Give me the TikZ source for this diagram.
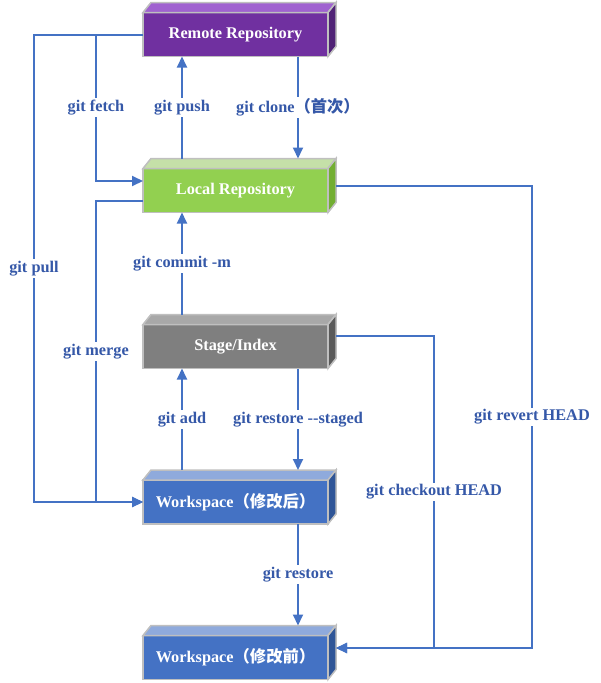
\documentclass[tikz,border=0pt]{standalone}
\usepackage{fontspec}
\setmainfont{Liberation Serif}
\newfontfamily\cjk{Noto Sans CJK SC}
\usetikzlibrary{arrows.meta}

\definecolor{lineblue}{HTML}{4472C4}
\definecolor{lblblue}{HTML}{3558A8}
\definecolor{boxgray}{HTML}{BFBFBF}
\definecolor{remoteFront}{HTML}{7030A0}
\definecolor{remoteTop}{HTML}{A062D0}
\definecolor{remoteSide}{HTML}{502276}
\definecolor{localFront}{HTML}{92D050}
\definecolor{localTop}{HTML}{C5E0A8}
\definecolor{localSide}{HTML}{72AE32}
\definecolor{stageFront}{HTML}{7F7F7F}
\definecolor{stageTop}{HTML}{A8A8A8}
\definecolor{stageSide}{HTML}{5A5A5A}
\definecolor{workFront}{HTML}{4472C4}
\definecolor{workTop}{HTML}{8FAADC}
\definecolor{workSide}{HTML}{2F5597}

\tikzset{
  cube/.style={draw=boxgray, line width=1.5pt, outer sep=0pt, inner sep=0pt,
    minimum width=185pt, minimum height=44pt, text=white},
  flow/.style={draw=lineblue, line width=2pt, -{Triangle[length=11pt,width=10pt]}},
  lbl/.style={fill=white, text=lblblue, inner sep=2pt}
}

\begin{document}
\begin{tikzpicture}[x=1pt, y=-1pt, font=\fontsize{16.3}{19}\selectfont\bfseries]
\useasboundingbox (0,0) rectangle (600,683);

% boxes
\node[cube, fill=remoteFront] (remote) at (235.5, 34.5) {Remote Repository};
\node[cube, fill=localFront] (local) at (235.5, 190.5) {Local Repository};
\node[cube, fill=stageFront] (stage) at (235.5, 346.5) {Stage/Index};
\node[cube, fill=workFront] (after) at (235.5, 502) {Workspace{\cjk（修改后）}};
\node[cube, fill=workFront] (before) at (235.5, 657.5) {Workspace{\cjk（修改前）}};
\foreach \n/\t/\s in {remote/remoteTop/remoteSide, local/localTop/localSide,
    stage/stageTop/stageSide, after/workTop/workSide, before/workTop/workSide} {
  \filldraw[draw=boxgray, line width=1.5pt, fill=\t]
    (\n.north west) -- ++(8,-10) -- ([xshift=8pt,yshift=10pt]\n.north east) -- (\n.north east) -- cycle;
  \filldraw[draw=boxgray, line width=1.5pt, fill=\s]
    (\n.north east) -- ++(8,-10) -- ++(0,44) -- (\n.south east) -- cycle;
}

\coordinate (pullx) at (34, 0);
\coordinate (fetchx) at (96, 0);
\coordinate (checkoutx) at (434, 0);
\coordinate (revertx) at (532, 0);
\coordinate (localSide) at ([xshift=8pt,yshift=4.5pt]local.east);
\coordinate (stageSide) at ([xshift=8pt,yshift=10.5pt]stage.east);
\coordinate (beforeSide) at ([xshift=8pt,yshift=9.5pt]before.east);

% up and down
\draw[flow] ([xshift=-53.5pt,yshift=10pt]local.north) -- node[lbl]{git push} ([xshift=-53.5pt]remote.south);
\draw[flow] ([xshift=62.5pt]remote.south) -- node[lbl]{git clone{\cjk（首次）}} ([xshift=62.5pt,yshift=10pt]local.north);
\draw[flow] ([xshift=-53.5pt,yshift=10pt]stage.north) -- node[lbl]{git commit -m} ([xshift=-53.5pt]local.south);
\draw[flow] ([xshift=-53.5pt,yshift=10pt]after.north) -- node[lbl]{git add} ([xshift=-53.5pt]stage.south);
\draw[flow] ([xshift=62.5pt]stage.south) -- node[lbl]{git restore {-}{-}staged} ([xshift=62.5pt,yshift=10pt]after.north);
\draw[flow] ([xshift=62.5pt]after.south) -- node[lbl]{git restore} ([xshift=62.5pt,yshift=10pt]before.north);

% left side
\draw[flow] (remote.west) -- (remote.west -| pullx) -- node[lbl]{git pull} (after.west -| pullx) -- (after.west);
\draw[flow] (remote.west) -- (remote.west -| fetchx) -- node[lbl]{git fetch}
  ([yshift=9.5pt]local.west -| fetchx) -- ([yshift=9.5pt]local.west);
\draw[flow] ([yshift=-10.5pt]local.west) -- ([yshift=-10.5pt]local.west -| fetchx) -- node[lbl]{git merge}
  (after.west -| fetchx) -- (after.west);

% right side
\draw[flow] (localSide) -- (localSide -| revertx) -- node[lbl]{git revert HEAD} (beforeSide -| revertx) -- (beforeSide);
\draw[flow] (stageSide) -- (stageSide -| checkoutx) -- node[lbl]{git checkout HEAD} (beforeSide -| checkoutx) -- (beforeSide);
\end{tikzpicture}
\end{document}
